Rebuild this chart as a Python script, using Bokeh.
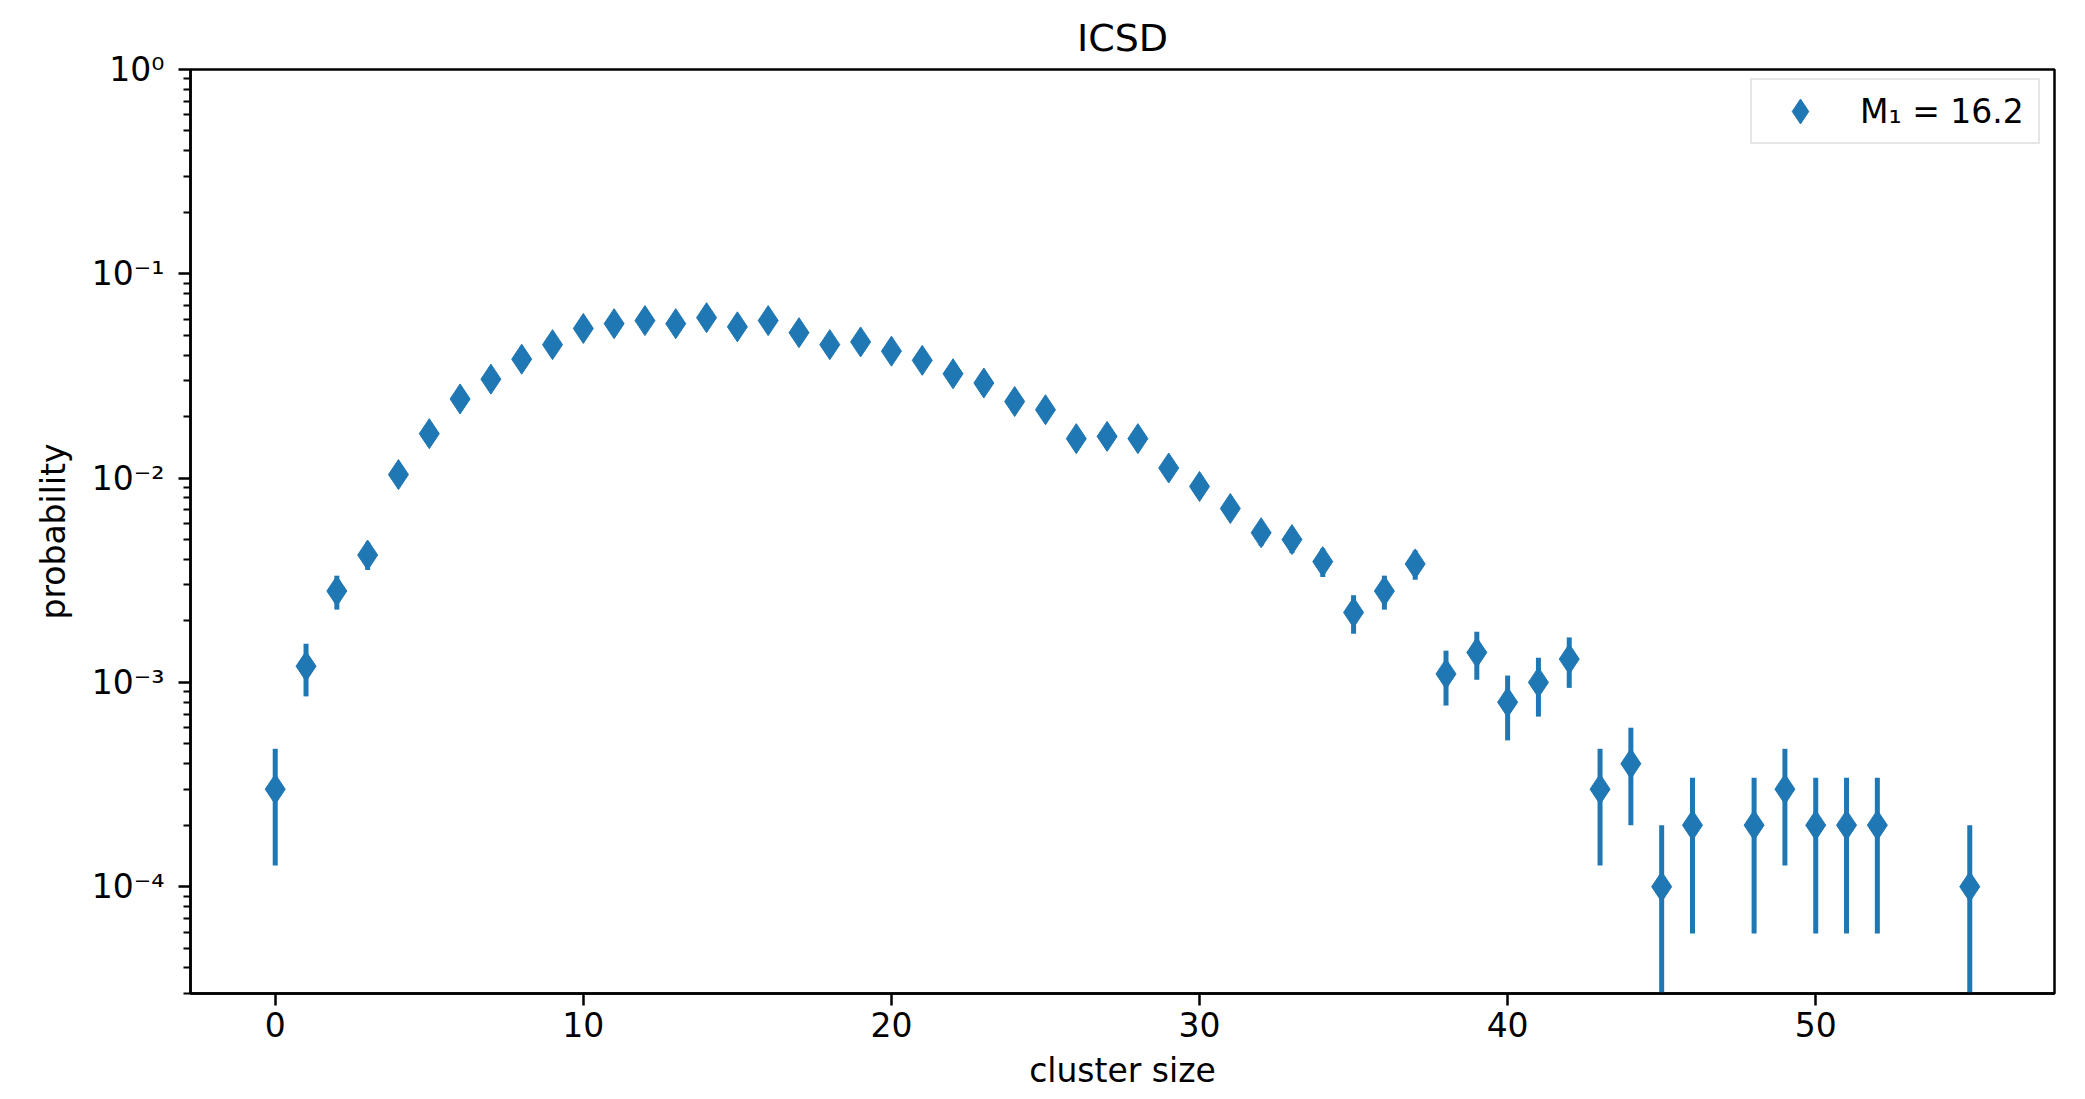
import numpy as np
from bokeh.plotting import figure
from bokeh.models import (FixedTicker, CustomJSTickFormatter, Range1d, Legend,
                          LegendItem, ColumnDataSource)
from bokeh.embed import file_html
from bokeh.resources import INLINE

# ---- data ----
cluster_size = [0, 1, 2, 3, 4, 5, 6, 7, 8, 9, 10, 11, 12, 13, 14, 15, 16, 17, 18, 19,
                20, 21, 22, 23, 24, 25, 26, 27, 28, 29, 30, 31, 32, 33, 34, 35, 36, 37,
                38, 39, 40, 41, 42, 43, 44, 45, 46, 48, 49, 50, 51, 52, 55]
probability = [3.0e-4, 1.2e-3, 2.8e-3, 4.2e-3, 1.04e-2, 1.65e-2, 2.44e-2, 3.05e-2, 3.82e-2, 4.5e-2,
               5.4e-2, 5.7e-2, 5.9e-2, 5.7e-2, 6.1e-2, 5.5e-2, 5.9e-2, 5.15e-2, 4.5e-2, 4.64e-2,
               4.18e-2, 3.77e-2, 3.24e-2, 2.92e-2, 2.37e-2, 2.16e-2, 1.56e-2, 1.6e-2, 1.56e-2, 1.12e-2,
               9.1e-3, 7.1e-3, 5.4e-3, 5.0e-3, 3.9e-3, 2.2e-3, 2.8e-3, 3.8e-3,
               1.1e-3, 1.4e-3, 8.0e-4, 1.0e-3, 1.3e-3, 3.0e-4, 4.0e-4, 1.0e-4, 2.0e-4,
               2.0e-4, 3.0e-4, 2.0e-4, 2.0e-4, 2.0e-4, 1.0e-4]
prob_error = [1.73e-4, 3.46e-4, 5.29e-4, 6.48e-4, 1.02e-3, 1.28e-3, 1.56e-3, 1.75e-3, 1.95e-3, 2.12e-3,
              2.32e-3, 2.39e-3, 2.43e-3, 2.39e-3, 2.47e-3, 2.35e-3, 2.43e-3, 2.27e-3, 2.12e-3, 2.15e-3,
              2.04e-3, 1.94e-3, 1.80e-3, 1.71e-3, 1.54e-3, 1.47e-3, 1.25e-3, 1.26e-3, 1.25e-3, 1.06e-3,
              9.5e-4, 8.4e-4, 7.3e-4, 7.1e-4, 6.2e-4, 4.7e-4, 5.3e-4, 6.2e-4,
              3.3e-4, 3.7e-4, 2.8e-4, 3.2e-4, 3.6e-4, 1.73e-4, 2.0e-4, 1.0e-4, 1.41e-4,
              1.41e-4, 1.73e-4, 1.41e-4, 1.41e-4, 1.41e-4, 1.0e-4]
x_ticks = [0, 10, 20, 30, 40, 50]
y_ticks = [1e-4, 1e-3, 1e-2, 1e-1, 1.0]
y_tick_labels = ["10\u207b\u2074", "10\u207b\u00b3", "10\u207b\u00b2", "10\u207b\u00b9", "10\u2070"]
legend_label = "M\u2081 = 16.2"
title_text = "ICSD"
x_label = "cluster size"
y_label = "probability"

FONT = "DejaVu Sans"
BLUE = "#1f77b4"

p_arr = np.array(probability)
e_arr = np.array(prob_error)
lower = np.maximum(p_arr - e_arr, 1e-9)
upper = p_arr + e_arr
src = ColumnDataSource(dict(x=cluster_size, y=probability, lo=lower, hi=upper))

p = figure(width=2085, height=1099, y_axis_type="log",
           x_range=Range1d(-2.75, 57.75), y_range=Range1d(3.0e-5, 1.0),
           output_backend="svg", toolbar_location=None,
           min_border_left=190, min_border_right=31, min_border_top=69, min_border_bottom=106)

p.title.text = title_text
p.title.align = "center"
p.title.text_font = FONT
p.title.text_font_size = "38px"
p.title.text_font_style = "normal"
p.title.text_color = "black"
p.title.standoff = 20

p.xgrid.visible = False
p.ygrid.visible = False
p.outline_line_color = "black"
p.outline_line_width = 2.5
p.outline_line_alpha = 1

seg = p.segment(x0="x", y0="lo", x1="x", y1="hi", source=src, line_color=BLUE, line_width=5)
sc = p.scatter(x="x", y="y", source=src, marker="diamond", size=30,
               fill_color=BLUE, line_color=BLUE, line_width=1)

# axes styling
for ax in (p.xaxis[0], p.yaxis[0]):
    ax.axis_line_color = "black"
    ax.axis_line_width = 2.5
    ax.major_tick_line_color = "black"
    ax.major_tick_line_width = 2.5
    ax.minor_tick_line_color = "black"
    ax.minor_tick_line_width = 2
    ax.major_tick_in = 0
    ax.major_tick_out = 12
    ax.minor_tick_in = 0
    ax.minor_tick_out = 7
    ax.major_label_text_font = FONT
    ax.major_label_text_font_size = "33px"
    ax.major_label_text_color = "black"
    ax.axis_label_text_font = FONT
    ax.axis_label_text_font_size = "33px"
    ax.axis_label_text_font_style = "normal"
    ax.axis_label_text_color = "black"

p.xaxis.ticker = FixedTicker(ticks=x_ticks, minor_ticks=[])
p.xaxis.axis_label = x_label
p.xaxis.major_label_standoff = 6
p.xaxis.axis_label_standoff = 11

minor_y = [m * 10.0 ** e for e in range(-5, 0) for m in range(2, 10) if m * 10.0 ** e >= 3.0e-5]
p.yaxis.ticker = FixedTicker(ticks=y_ticks, minor_ticks=minor_y)
p.yaxis.formatter = CustomJSTickFormatter(args=dict(tvals=y_ticks, tlabels=y_tick_labels), code="""
    for (let i = 0; i < tvals.length; i++) {
        if (Math.abs(Math.log10(tick) - Math.log10(tvals[i])) < 1e-6) return tlabels[i];
    }
    return "";
""")
p.yaxis.axis_label = y_label
p.yaxis.major_label_standoff = 14
p.yaxis.axis_label_standoff = 16

legend = Legend(items=[LegendItem(label=legend_label, renderers=[sc])],
                location=(1560, 849))
legend.margin = 0
legend.padding = 0
legend.glyph_width = 96
legend.glyph_height = 62
legend.label_height = 62
legend.label_width = 178
legend.label_standoff = 12
legend.label_text_font = FONT
legend.label_text_font_size = "33px"
legend.label_text_color = "black"
legend.border_line_color = "#cccccc"
legend.border_line_width = 2
legend.background_fill_color = "white"
legend.background_fill_alpha = 0.8
p.add_layout(legend)

open("out.html", "w").write(file_html(p, INLINE))
